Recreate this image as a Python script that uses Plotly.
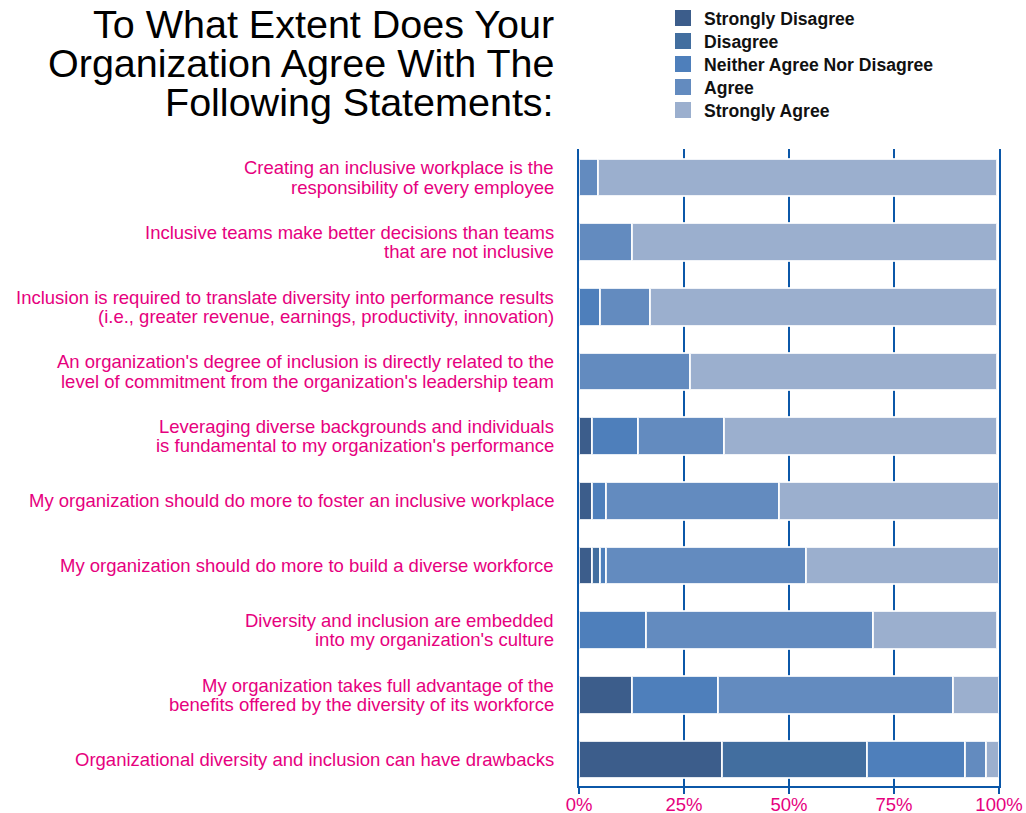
import plotly.graph_objects as go

# ---------------- data ----------------
statements = [
    "Creating an inclusive workplace is the\nresponsibility of every employee",
    "Inclusive teams make better decisions than teams\nthat are not inclusive",
    "Inclusion is required to translate diversity into performance results\n(i.e., greater revenue, earnings, productivity, innovation)",
    "An organization's degree of inclusion is directly related to the\nlevel of commitment from the organization's leadership team",
    "Leveraging diverse backgrounds and individuals\nis fundamental to my organization's performance",
    "My organization should do more to foster an inclusive workplace",
    "My organization should do more to build a diverse workforce",
    "Diversity and inclusion are embedded\ninto my organization's culture",
    "My organization takes full advantage of the\nbenefits offered by the diversity of its workforce",
    "Organizational diversity and inclusion can have drawbacks",
]
series_names = ["Strongly Disagree", "Disagree", "Neither Agree Nor Disagree", "Agree", "Strongly Agree"]
strongly_disagree = [0, 0, 0, 0, 3, 3, 3, 0, 12.5, 34]
disagree = [0, 0, 0, 0, 0, 0, 2, 0, 0, 34.5]
neither = [0, 0, 5, 0, 11, 3.5, 1.5, 16, 20.5, 23.5]
agree = [4.5, 12.5, 12, 26.5, 20.5, 41, 47.5, 54, 56, 5]
strongly_agree = [95, 87, 82.5, 73, 65, 52.5, 46, 29.5, 11, 3]
tick_values = [0, 25, 50, 75, 100]
tick_labels = ["0%", "25%", "50%", "75%", "100%"]
title_lines = ["To What Extent Does Your", "Organization Agree With The", "Following Statements:"]

# ---------------- styles / layout geometry ----------------
colors = ["#3c5d8b", "#426e9f", "#4e7fbb", "#638bbf", "#9bafce"]
axis_blue = "#0b57a8"
magenta = "#e6007e"
font_family = "Liberation Sans, Arial, Helvetica, sans-serif"
W, H = 1026, 813
ML, MR, MT, MB = 579, 27, 149, 27
PW, PH = W - ML - MR, H - MT - MB


def paper_x(px):
    return (px - ML) / PW


def paper_y(py):
    return (H - MB - py) / PH


cats = [s.replace("\n", " ") for s in statements]
series = [strongly_disagree, disagree, neither, agree, strongly_agree]

fig = go.Figure()
for name, vals, col in zip(series_names, series, colors):
    fig.add_trace(go.Bar(
        y=cats, x=[v if v else None for v in vals], orientation="h", name=name,
        marker=dict(color=col, line=dict(color="rgba(255,255,255,0.85)", width=2)),
        showlegend=False,
    ))

annotations = []
shapes = []

# category labels (tight two-line leading as in the reference)
line_gap = 19.5
for cat, s in zip(cats, statements):
    lines = s.split("\n")
    n = len(lines)
    for j, ln in enumerate(lines):
        off = (j - (n - 1) / 2) * line_gap
        annotations.append(dict(
            x=0, xref="paper", xshift=-23, xanchor="right",
            y=cat, yref="y", yshift=-off, yanchor="middle",
            text=ln, showarrow=False, align="right",
            font=dict(size=18.5, color=magenta, family=font_family),
        ))

# title, right aligned with the labels
title_centers = [24, 63, 102]
for ln, c in zip(title_lines, title_centers):
    annotations.append(dict(
        x=0, xref="paper", xshift=-23, xanchor="right",
        y=paper_y(c), yref="paper", yanchor="middle",
        text=ln, showarrow=False,
        font=dict(size=39.5, color="#000000", family=font_family),
    ))

# legend (square swatches + bold labels)
leg_sq_left, leg_sq_size, leg_text_left = 675, 16, 702
leg_first, leg_step = 18, 23
for i, (name, col) in enumerate(zip(series_names, colors)):
    cy = leg_first + i * leg_step
    shapes.append(dict(
        type="rect", xref="paper", yref="paper",
        x0=paper_x(leg_sq_left), x1=paper_x(leg_sq_left + leg_sq_size),
        y0=paper_y(cy + leg_sq_size / 2), y1=paper_y(cy - leg_sq_size / 2),
        fillcolor=col, line=dict(width=0), layer="above",
    ))
    annotations.append(dict(
        x=paper_x(leg_text_left), xref="paper", xanchor="left",
        y=paper_y(cy + 1), yref="paper", yanchor="middle",
        text=name, showarrow=False,
        font=dict(size=17.6, color="#111111", family=font_family, weight="bold"),
    ))

fig.update_layout(
    width=W, height=H,
    margin=dict(l=ML, r=MR, t=MT, b=MB, pad=0, autoexpand=False),
    barmode="stack", bargap=0.42,
    plot_bgcolor="white", paper_bgcolor="white",
    font=dict(family=font_family),
    showlegend=False,
    annotations=annotations,
    shapes=shapes,
)
fig.update_xaxes(
    range=[0, 100], tickmode="array", tickvals=tick_values, ticktext=tick_labels,
    showgrid=True, gridcolor=axis_blue, gridwidth=2,
    showline=True, linecolor=axis_blue, linewidth=2,
    ticks="outside", ticklen=6, tickwidth=2, tickcolor=axis_blue,
    ticklabelstandoff=-5,
    tickfont=dict(size=18.5, color=magenta, family=font_family),
    zeroline=False, fixedrange=True,
)
fig.update_yaxes(
    type="category", categoryorder="array", categoryarray=cats,
    range=[9.41, -0.44], showticklabels=False, ticks="",
    showline=True, mirror=True, linecolor=axis_blue, linewidth=2,
    showgrid=False, zeroline=False,
)

fig.write_html(
    "out.html",
    config={"displayModeBar": False},
    post_script="document.body.style.margin='0';document.body.style.padding='0';document.body.style.overflow='hidden';",
)
